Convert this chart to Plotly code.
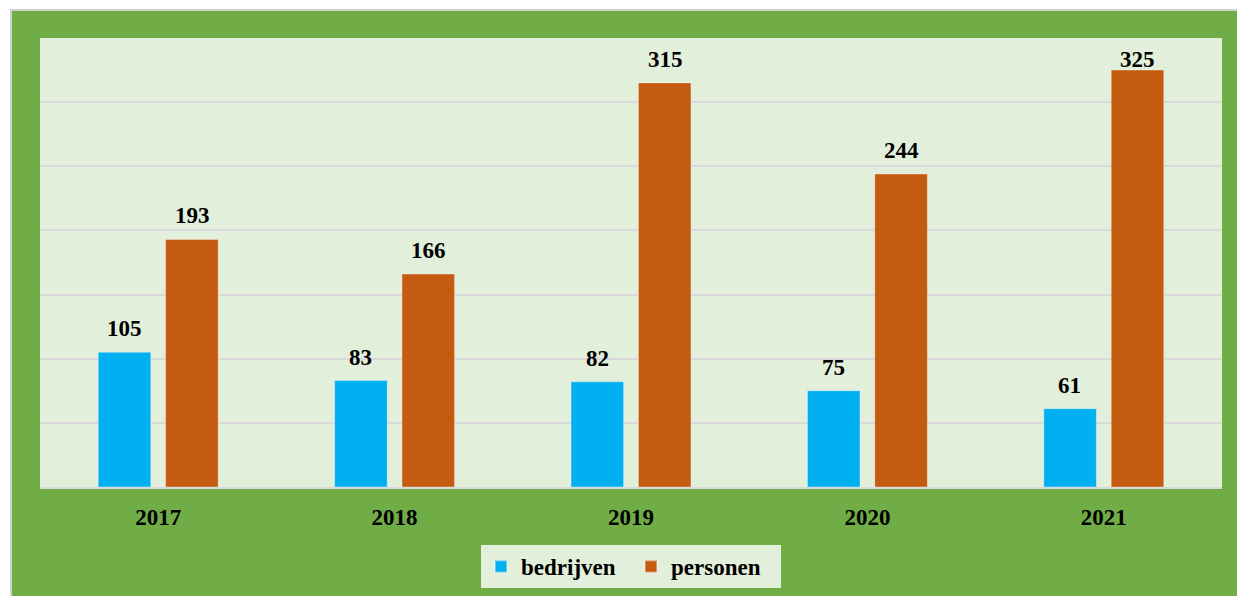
import plotly.graph_objects as go

years = ["2017", "2018", "2019", "2020", "2021"]
bedrijven = [105, 83, 82, 75, 61]
personen = [193, 166, 315, 244, 325]

BLUE = "#00B0F0"
ORANGE = "#C55A11"
FRAME = "#70AD47"
INNER = "#E2EFDA"
GRID = "#D9D9D9"
FONT = "Liberation Serif"
YMAX = 350
PLOT_H = 596 - 38 - 109

fig = go.Figure()
fig.add_trace(go.Bar(name="bedrijven", x=years, y=bedrijven, marker=dict(color=BLUE, line=dict(color="rgba(255,255,255,0.35)", width=1))))
fig.add_trace(go.Bar(name="personen", x=years, y=personen, marker=dict(color=ORANGE, line=dict(color="rgba(255,255,255,0.35)", width=1))))

annotations = []
for series, shift in ((bedrijven, -34), (personen, 34)):
    for i, v in enumerate(series):
        top_space = (YMAX - v) * PLOT_H / YMAX
        ys = min(9, top_space - 36)  # keep label inside the plot area, like the original
        annotations.append(dict(x=i, y=v, xref="x", yref="y", text=f"<b>{v}</b>", showarrow=False,
                                xshift=shift, yanchor="bottom", yshift=ys,
                                font=dict(family=FONT, size=23, color="black")))

fig.update_layout(
    width=1237, height=596,
    margin=dict(l=40, r=15, t=38, b=109, autoexpand=False),
    paper_bgcolor="white",
    plot_bgcolor="rgba(0,0,0,0)",
    barmode="group", bargap=0.43, bargroupgap=0.22,
    font=dict(family=FONT, color="black"),
    xaxis=dict(type="category", categoryorder="array", categoryarray=years, range=[-0.5, 4.5],
               tickfont=dict(size=23, family=FONT, weight="bold"),
               showline=True, linecolor=GRID, linewidth=2, ticks="", ticklabelstandoff=8, fixedrange=True),
    yaxis=dict(range=[0, YMAX], dtick=50, showticklabels=False, showgrid=True, gridcolor=GRID, gridwidth=2,
               zeroline=False, ticks="", fixedrange=True),
    legend=dict(orientation="h", x=0.5, xanchor="center", y=-0.177, yanchor="middle",
                bgcolor=INNER, font=dict(family=FONT, size=23, weight="bold"), entrywidth=105,
                itemwidth=30, itemsizing="constant"),
    showlegend=True,
    annotations=annotations,
    shapes=[
        dict(type="rect", xref="paper", yref="paper", x0=-0.0245, x1=1.05, y0=-0.4, y1=1.0624,
             fillcolor=FRAME, line=dict(color="#D0D0D0", width=2), layer="below"),
        dict(type="rect", xref="paper", yref="paper", x0=0, x1=1, y0=0, y1=1,
             fillcolor=INNER, line=dict(width=0), layer="below"),
    ],
)

fig.write_html("out.html", config={"displayModeBar": False},
               post_script="document.body.style.margin='0';document.body.style.overflow='hidden';")
